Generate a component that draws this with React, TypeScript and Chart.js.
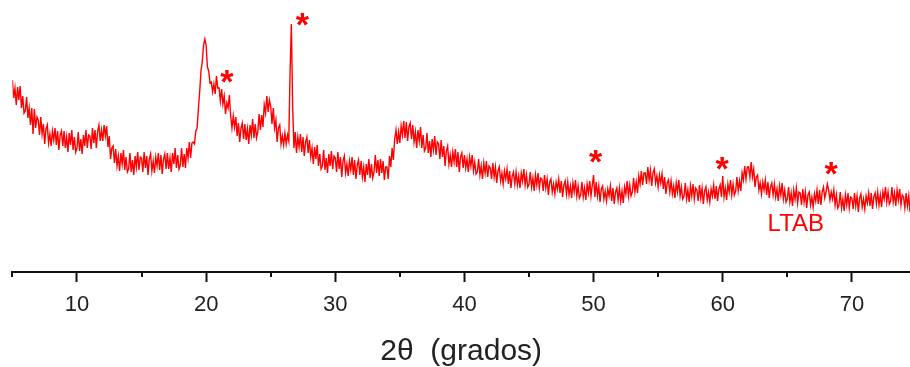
import React, { useEffect, useRef } from "react";
import { Chart, registerables } from "chart.js";

Chart.register(...registerables);

// 2θ sampling of the pattern (degrees)
const thetaStart = 5.0;
const thetaStep = 0.1;

// LTAB diffractogram intensity (arb. units), one row per degree, 5.0 … 74.5
const intensity: number[] = [
  192, 174, 184, 167, 185, 172, 186, 164, 176, 159, // 5
  161, 175, 154, 164, 147, 164, 138, 163, 144, 155, // 6
  152, 137, 155, 138, 148, 128, 143, 147, 129, 138, // 7
  126, 141, 132, 144, 127, 141, 122, 137, 141, 126, // 8
  141, 124, 135, 120, 139, 127, 142, 122, 135, 120, // 9
  124, 140, 121, 133, 118, 137, 126, 142, 124, 137, // 10
  136, 123, 144, 129, 142, 124, 141, 147, 131, 142, // 11
  131, 147, 136, 146, 125, 136, 113, 124, 126, 109, // 12
  123, 106, 116, 101, 119, 108, 122, 102, 115, 100, // 13
  103, 119, 100, 112, 97, 116, 105, 120, 102, 115, // 14
  114, 100, 120, 104, 116, 97, 113, 118, 101, 111, // 15
  99, 115, 106, 119, 102, 117, 98, 113, 118, 103, // 16
  119, 103, 114, 100, 119, 108, 124, 104, 117, 103, // 17
  107, 124, 105, 118, 104, 124, 114, 130, 114, 129, // 18
  130, 128, 141, 144, 163, 180, 201, 210, 227, 233, // 19
  227, 205, 201, 189, 190, 180, 188, 178, 196, 184, // 20
  184, 171, 183, 168, 176, 158, 169, 164, 177, 156, // 21
  144, 156, 145, 155, 136, 149, 130, 144, 149, 133, // 22
  148, 132, 143, 128, 147, 137, 153, 134, 148, 134, // 23
  140, 158, 142, 157, 145, 167, 159, 176, 160, 172, // 24
  166, 148, 164, 144, 152, 130, 144, 147, 128, 136, // 25
  127, 139, 128, 137, 131, 200, 248, 165, 124, 140, // 26
  119, 135, 125, 138, 120, 135, 116, 130, 135, 119, // 27
  132, 115, 124, 108, 125, 113, 127, 106, 118, 103, // 28
  106, 122, 102, 114, 99, 118, 106, 121, 103, 116, // 29
  114, 100, 120, 103, 115, 95, 111, 116, 99, 108, // 30
  96, 111, 102, 115, 97, 112, 93, 107, 112, 97, // 31
  111, 95, 105, 90, 108, 97, 113, 94, 108, 94, // 32
  100, 117, 99, 112, 96, 113, 99, 111, 92, 105, // 33
  105, 93, 116, 105, 124, 112, 133, 142, 128, 140, // 34
  129, 146, 137, 151, 134, 150, 131, 145, 149, 133, // 35
  147, 130, 140, 124, 142, 131, 145, 124, 137, 121, // 36
  124, 139, 119, 131, 115, 133, 122, 136, 117, 130, // 37
  128, 113, 132, 115, 126, 106, 121, 126, 108, 117, // 38
  105, 120, 110, 123, 105, 120, 100, 115, 119, 104, // 39
  117, 104, 113, 100, 115, 106, 117, 101, 110, 98, // 40
  100, 113, 97, 106, 93, 109, 99, 111, 95, 106, // 41
  104, 93, 109, 95, 105, 89, 101, 105, 91, 99, // 42
  88, 101, 93, 103, 88, 101, 84, 96, 100, 88, // 43
  100, 87, 96, 84, 99, 91, 103, 87, 97, 85, // 44
  88, 100, 85, 94, 81, 97, 87, 99, 84, 94, // 45
  93, 81, 97, 84, 93, 77, 90, 93, 80, 88, // 46
  78, 90, 83, 93, 79, 91, 75, 87, 91, 78, // 47
  90, 77, 86, 74, 89, 80, 92, 76, 86, 74, // 48
  77, 90, 75, 84, 72, 88, 79, 91, 76, 87, // 49
  97, 75, 90, 76, 86, 70, 83, 86, 73, 81, // 50
  71, 83, 76, 86, 71, 84, 68, 80, 84, 72, // 51
  84, 71, 81, 69, 85, 78, 91, 76, 87, 76, // 52
  80, 94, 80, 90, 79, 96, 88, 101, 87, 99, // 53
  99, 88, 105, 92, 102, 86, 99, 103, 89, 96, // 54
  85, 97, 89, 98, 83, 95, 78, 89, 92, 80, // 55
  91, 78, 86, 74, 89, 80, 92, 76, 85, 73, // 56
  76, 89, 73, 82, 70, 86, 76, 88, 73, 84, // 57
  82, 71, 87, 74, 84, 68, 81, 85, 72, 80, // 58
  70, 83, 76, 87, 73, 86, 71, 83, 87, 75, // 59
  96, 75, 84, 72, 88, 80, 92, 77, 88, 77, // 60
  81, 95, 81, 91, 81, 99, 92, 106, 93, 105, // 61
  105, 95, 110, 95, 103, 85, 95, 97, 82, 89, // 62
  78, 90, 82, 92, 77, 90, 74, 85, 89, 77, // 63
  88, 75, 83, 71, 86, 77, 89, 73, 82, 70, // 64
  73, 85, 70, 79, 66, 82, 73, 84, 69, 80, // 65
  79, 67, 83, 70, 80, 64, 77, 80, 67, 75, // 66
  65, 78, 71, 82, 68, 82, 67, 80, 85, 74, // 67
  80, 88, 82, 72, 80, 73, 82, 67, 77, 64, // 68
  67, 80, 64, 73, 61, 77, 67, 79, 64, 75, // 69
  74, 63, 79, 66, 76, 60, 74, 78, 65, 73, // 70
  63, 76, 69, 79, 66, 79, 63, 75, 79, 68, // 71
  80, 67, 77, 65, 80, 73, 85, 70, 80, 68, // 72
  71, 85, 70, 79, 66, 82, 72, 83, 67, 77, // 73
  75, 64, 79, 66, 76, 60, // 74
];

// axis
const xMin = 5;
const xMax = 74.5;
const majorTicks = [10, 20, 30, 40, 50, 60, 70];
const minorTicks = [5, 15, 25, 35, 45, 55, 65];
const xTitle = "2θ  (grados)";

// asterisks marking reflections: 2θ and intensity of their centres
const starTheta = [21.6, 27.45, 50.15, 59.95, 68.4];
const starIntensity = [196, 253, 116, 109, 104];

// sample label
const sampleLabel = "LTAB";
const sampleTheta = 65.66;
const sampleIntensity = 48;

const RED = "#ff0000";
const FONT = "'Liberation Sans', Arial, sans-serif";

export default function App() {
  const canvasRef = useRef<HTMLCanvasElement | null>(null);

  useEffect(() => {
    document.body.style.margin = "0";
    const canvas = canvasRef.current;
    if (!canvas) return;

    const points = intensity.map((v, i) => ({
      x: +(thetaStart + i * thetaStep).toFixed(1),
      y: v,
    }));

    const overlay = {
      id: "overlay",
      afterDraw(chart: any) {
        const { ctx } = chart;
        const xs = chart.scales.x;
        const ys = chart.scales.y;
        const base = chart.chartArea.bottom;
        ctx.save();
        // minor ticks
        ctx.strokeStyle = "#111";
        ctx.lineWidth = 2;
        minorTicks.forEach((t) => {
          const px = Math.round(xs.getPixelForValue(t));
          ctx.beginPath();
          ctx.moveTo(px, base);
          ctx.lineTo(px, base + 5);
          ctx.stroke();
        });
        // asterisks
        ctx.fillStyle = RED;
        ctx.font = `bold 34px ${FONT}`;
        ctx.textAlign = "center";
        ctx.textBaseline = "alphabetic";
        const m = ctx.measureText("*");
        const off = (m.actualBoundingBoxAscent - m.actualBoundingBoxDescent) / 2;
        starTheta.forEach((t, i) => {
          const px = xs.getPixelForValue(t);
          const py = ys.getPixelForValue(starIntensity[i]);
          ctx.fillText("*", px, py + off);
        });
        // sample label
        ctx.font = `24px ${FONT}`;
        ctx.textBaseline = "middle";
        ctx.fillText(
          sampleLabel,
          xs.getPixelForValue(sampleTheta),
          ys.getPixelForValue(sampleIntensity)
        );
        ctx.restore();
      },
    };

    const chart = new Chart(canvas, {
      type: "line",
      data: {
        datasets: [
          {
            data: points,
            borderColor: RED,
            borderWidth: 1.4,
            pointRadius: 0,
            tension: 0,
            fill: false,
          },
        ],
      },
      options: {
        animation: false,
        responsive: false,
        maintainAspectRatio: false,
        layout: { padding: { left: 12.4, right: 0, top: 0, bottom: 0 } },
        plugins: {
          legend: { display: false },
          tooltip: { enabled: false },
        },
        scales: {
          x: {
            type: "linear",
            min: xMin,
            max: xMax,
            afterBuildTicks: (scale: any) => {
              scale.ticks = majorTicks.map((v) => ({ value: v }));
            },
            afterFit: (scale: any) => {
              scale.height = 95;
            },
            border: { display: true, color: "#111", width: 2 },
            grid: {
              drawOnChartArea: false,
              drawTicks: true,
              tickLength: 10,
              tickWidth: 2,
              tickColor: "#111",
            },
            ticks: {
              color: "#222",
              font: { family: FONT, size: 22 },
              padding: 10,
              maxRotation: 0,
              autoSkip: false,
            },
            title: {
              display: true,
              text: xTitle,
              color: "#222",
              font: { family: FONT, size: 30, lineHeight: 1.0 },
              padding: { top: 0, bottom: 0 },
            },
          },
          y: {
            display: false,
            min: 0,
            max: 272,
          },
        },
      },
      plugins: [overlay],
    });

    return () => chart.destroy();
  }, []);

  return (
    <div style={{ position: "fixed", left: 0, top: 0, width: 910, height: 367, background: "#fff" }}>
      <canvas ref={canvasRef} width={910} height={367} />
    </div>
  );
}
